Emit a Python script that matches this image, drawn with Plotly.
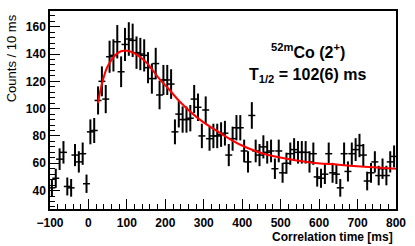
import numpy as np
import plotly.graph_objects as go

# bin centres (ms) and counts per 10 ms bin
time_ms = list(range(-95, 800, 10))
counts = [42, 49, 63, 68, 43, 42, 66, 61, 67, 45,
          83, 84, 106, 120, 107, 138, 139, 149, 127, 147,
          151, 150, 141, 140, 139, 130, 122, 133, 110, 121,
          121, 118, 83, 96, 92, 92, 93, 107, 101, 80,
          99, 78, 80, 80, 81, 82, 66, 78, 86, 86,
          69, 61, 95, 69, 66, 72, 68, 69, 56, 69,
          53, 60, 67, 70, 68, 68, 68, 61, 67, 50,
          49, 52, 67, 53, 52, 42, 67, 54, 67, 70,
          73, 66, 47, 53, 61, 51, 56, 51, 61, 65]
errors = [float(np.sqrt(c)) for c in counts]

# fit curve
fit_t = [25, 35, 50, 75, 95, 120, 150, 184, 210, 236, 288, 340, 391, 443, 495, 573, 650, 728, 800]
fit_y = [104, 118, 131, 140.5, 142.5, 140.5, 134, 122, 114, 105.6, 92.3, 82.6, 74.1, 68.1, 64.4, 60.8, 58.9, 57.2, 56]

x_ticks = [-100, 0, 100, 200, 300, 400, 500, 600, 700, 800]
y_ticks = [40, 60, 80, 100, 120, 140, 160]

FONT = "Liberation Sans"

fig = go.Figure()
fig.add_trace(go.Scatter(
    x=time_ms, y=counts, mode="markers",
    marker=dict(symbol="line-ew", size=5, line=dict(color="black", width=1.5), color="black"),
    error_y=dict(type="data", array=errors, visible=True, color="black", thickness=2, width=0),
    showlegend=False, hoverinfo="skip"))
fig.add_trace(go.Scatter(
    x=fit_t, y=fit_y, mode="lines",
    line=dict(color="#ff0000", width=2, shape="spline", smoothing=1.0),
    showlegend=False, hoverinfo="skip"))

axis_common = dict(showline=True, linecolor="black", linewidth=1.5, mirror=True,
                   ticks="inside", tickcolor="black", tickwidth=1, ticklen=10,
                   showgrid=False, zeroline=False,
                   tickfont=dict(family=FONT, size=12, color="black", weight="bold"))

fig.update_xaxes(range=[-100, 800], tickvals=x_ticks, ticklabelstandoff=2,
                 minor=dict(dtick=20, ticks="inside", ticklen=5, tickcolor="black", tickwidth=1, showgrid=False),
                 **axis_common)
fig.update_yaxes(range=[26.5, 171.5], tickvals=y_ticks,
                 minor=dict(dtick=4, ticks="inside", ticklen=5, tickcolor="black", tickwidth=1, showgrid=False),
                 **axis_common)

fig.update_layout(
    width=415, height=246,
    margin=dict(l=50, r=16, t=9, b=37),
    plot_bgcolor="white", paper_bgcolor="white",
    font=dict(family=FONT, color="black"),
    annotations=[
        dict(text="Counts / 10 ms", textangle=-90, xref="paper", yref="paper",
             x=-0.109, y=0.995, xanchor="center", yanchor="top", showarrow=False,
             font=dict(family=FONT, size=13, color="black")),
        dict(text="Correlation time [ms]", xref="paper", yref="paper",
             x=0.997, y=(209 - 237.5) / 200, xanchor="right", yanchor="middle", showarrow=False,
             font=dict(family=FONT, size=12, color="black", weight="bold")),
        dict(text="<sup>52m</sup>Co (2<sup>+</sup>)", xref="paper", yref="paper",
             x=0.633, y=(209 - 49) / 200, xanchor="left", yanchor="middle", showarrow=False,
             font=dict(family=FONT, size=16, color="black", weight="bold")),
        dict(text="T<sub>1/2</sub> = 102(6) ms", xref="paper", yref="paper",
             x=0.570, y=(209 - 74) / 200, xanchor="left", yanchor="middle", showarrow=False,
             font=dict(family=FONT, size=16, color="black", weight="bold")),
    ],
)

fig.write_html("out.html", config={"displayModeBar": False},
               post_script="document.body.style.margin='0';document.body.style.padding='0';document.body.style.overflow='hidden';")
